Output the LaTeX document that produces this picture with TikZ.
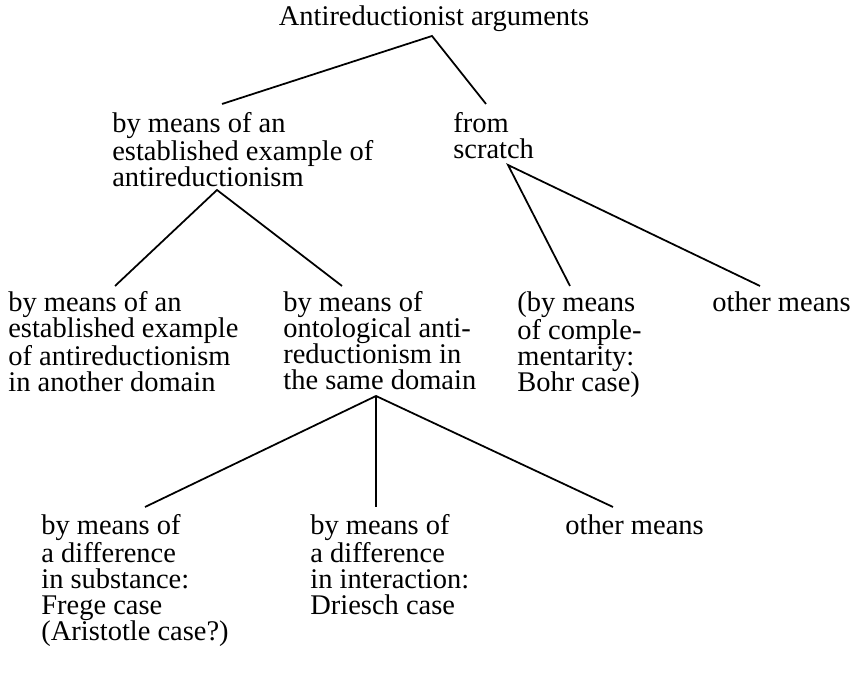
\documentclass[tikz,border=0pt]{standalone}
\usepackage{fontspec}
\setmainfont{Liberation Serif}
\usepackage{tikz}

\begin{document}
\begin{tikzpicture}[every node/.style={font=\fontsize{16.2}{14.8}\selectfont, inner sep=0pt},
	txt/.style={anchor=north west, align=left},
	branch/.style={black, line width=1pt}]
	\useasboundingbox (0,0) rectangle (17.12,13.84);

\node[anchor=base] (root) at (8.68,13.32) {Antireductionist arguments};

\node[txt] (est) at (2.24,11.60) {by means of an\\established example of\\antireductionism};
\node[txt] (scr) at (9.06,11.60) {from\\scratch};

\node[txt] (other) at (0.16,8.02) {by means of an\\established example\\of antireductionism\\in another domain};
\node[txt] (onto) at (5.66,8.02) {by means of\\ontological anti-\\reductionism in\\the same domain};
\node[txt] (bohr) at (10.34,8.02) {(by means\\of comple-\\mentarity:\\Bohr case)};
\node[txt] (oth1) at (14.24,8.02) {other means};

\node[txt] (frege) at (0.82,3.56) {by means of\\a difference\\in substance:\\Frege case\\(Aristotle case?)};
\node[txt] (driesch) at (6.20,3.56) {by means of\\a difference\\in interaction:\\Driesch case};
\node[txt] (oth2) at (11.30,3.56) {other means};

\coordinate (root-b) at (8.64,13.12);
\coordinate (est-t) at (4.44,11.76);
\coordinate (scr-t) at (9.72,11.76);
\coordinate (est-b) at (4.34,10.04);
\coordinate (scr-b) at (10.16,10.54);
\coordinate (other-t) at (2.30,8.12);
\coordinate (onto-t) at (6.84,8.12);
\coordinate (bohr-t) at (11.40,8.12);
\coordinate (oth1-t) at (15.20,8.12);
\coordinate (onto-b) at (7.52,5.92);
\coordinate (frege-t) at (2.90,3.70);
\coordinate (driesch-t) at (7.52,3.70);
\coordinate (oth2-t) at (12.26,3.70);

\draw[branch] (est-t) -- (root-b) -- (scr-t);
\draw[branch] (other-t) -- (est-b) -- (onto-t);
\draw[branch] (bohr-t) -- (scr-b) -- (oth1-t);
\draw[branch] (frege-t) -- (onto-b) -- (oth2-t);
\draw[branch] (onto-b) -- (driesch-t);

\end{tikzpicture}
\end{document}
